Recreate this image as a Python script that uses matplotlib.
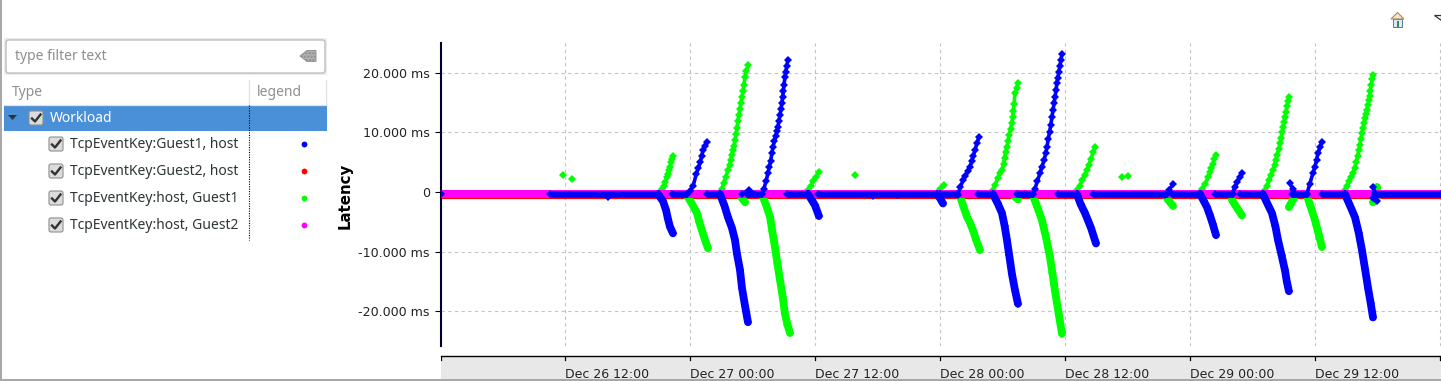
import matplotlib
matplotlib.use("Agg")
import matplotlib.pyplot as plt
import matplotlib.patches as patches

W, H = 1441, 381

# hours since Dec 26 00:00, latency in ms
tick_hours = [12, 24, 36, 48, 60, 72, 84, 96]
tick_labels = ["Dec 26 12:00", "Dec 27 00:00", "Dec 27 12:00", "Dec 28 00:00",
               "Dec 28 12:00", "Dec 29 00:00", "Dec 29 12:00"]
y_ticks = [-20, -10, 0, 10, 20]
y_labels = ["-20.000 ms", "-10.000 ms", "0", "10.000 ms", "20.000 ms"]

baseline_start = [0.1, 96.1]
baseline_value = [-0.25, -0.25]
red_value = [-0.4, -0.4]

blue_runs = [(10.56, 21.02), (22.27, 23.71), (25.63, 26.88), (29.47, 30.91), (33.31, 35.33),
             (36.29, 48.0), (48.0, 49.63), (51.65, 53.09), (55.39, 56.93), (59.33, 61.15),
             (62.69, 69.79), (70.27, 72.96), (74.4, 76.13), (76.8, 79.0), (81.79, 83.23),
             (84.67, 86.88), (89.76, 96.1)]

green_dots_t = [11.81, 12.67, 39.84, 65.47, 66.05]
green_dots_v = [2.9, 2.2, 2.9, 2.5, 2.7]
blue_dots_t = [0.1, 16.13, 41.57, 43.9]
blue_dots_v = [-0.35, -0.8, -0.7, -0.45]

# (times, values) for the strokes leaving the baseline
green_up = [
    ([21.12, 21.3, 21.5, 21.65, 21.79, 21.9, 21.98, 22.08, 22.18, 22.28, 22.37],
     [0.0, 0.5, 1.0, 1.7, 2.5, 3.1, 3.7, 4.3, 5.0, 5.5, 6.0]),
    ([27.07, 27.25, 27.45, 27.65, 27.8, 27.92, 28.03, 28.13, 28.23, 28.32, 28.43, 28.52, 28.61, 28.7,
      28.8, 28.9, 29.0, 29.09, 29.18, 29.28, 29.42, 29.57],
     [0.6, 1.6, 2.6, 3.7, 4.6, 5.4, 6.2, 7.0, 7.8, 8.7, 9.7, 10.8, 12.0, 13.0,
      14.0, 15.0, 16.0, 17.0, 18.0, 19.3, 20.3, 21.3]),
    ([35.33, 35.6, 35.85, 36.1, 36.38], [0.3, 1.1, 1.9, 2.6, 3.3]),
    ([48.0, 48.38], [0.6, 1.2]),
    ([53.09, 53.3, 53.55, 53.76, 53.95, 54.1, 54.2, 54.3, 54.43, 54.55, 54.65, 54.78, 54.91, 54.98,
      55.05, 55.12, 55.2, 55.35, 55.49],
     [0.3, 1.2, 2.4, 3.2, 3.7, 4.8, 5.8, 6.7, 7.6, 8.6, 9.6, 10.6, 11.6, 12.6,
      13.6, 14.8, 16.6, 17.4, 18.3]),
    ([61.15, 61.4, 61.65, 61.9, 62.11, 62.3, 62.5, 62.7, 62.88],
     [0.3, 1.1, 2.0, 2.9, 3.7, 4.6, 5.6, 6.7, 7.6]),
    ([73.15, 73.45, 73.73, 73.9, 74.05, 74.2, 74.35, 74.5], [0.6, 1.3, 2.5, 3.3, 4.0, 4.8, 5.5, 6.3]),
    ([79.2, 79.4, 79.6, 79.8, 79.97, 80.12, 80.25, 80.38, 80.52, 80.64, 80.75, 80.85, 80.95, 81.03,
      81.12, 81.22, 81.32, 81.4, 81.5],
     [0.3, 1.1, 2.0, 2.9, 3.7, 4.6, 5.4, 6.3, 7.2, 8.2, 9.1, 10.0, 10.9, 11.8,
      12.6, 13.5, 14.4, 15.2, 16.0]),
    ([86.88, 87.1, 87.3, 87.5, 87.65, 87.8, 87.95, 88.1, 88.2, 88.3, 88.4, 88.51, 88.62, 88.72, 88.82,
      88.92, 88.99, 89.08, 89.16, 89.24, 89.32, 89.4, 89.5, 89.57],
     [0.3, 1.0, 1.8, 2.6, 3.2, 4.0, 5.0, 6.0, 7.0, 7.9, 8.9, 9.9, 10.8, 11.6, 12.4,
      13.1, 13.8, 14.6, 15.4, 16.2, 17.0, 17.9, 18.9, 19.7]),
]
green_down = [
    ([23.71, 24.0, 24.3, 24.67, 24.9, 25.15, 25.44, 25.73], [-0.5, -1.4, -2.3, -3.5, -5.0, -6.4, -8.0, -9.4]),
    ([28.9, 29.3], [-0.8, -1.7]),
    ([30.91, 31.3, 31.68, 31.9, 32.16, 32.4, 32.64, 32.9, 33.12, 33.36, 33.6],
     [-0.4, -2.1, -4.1, -6.5, -9.2, -12.0, -14.7, -17.5, -20.4, -22.2, -23.6]),
    ([49.92, 50.25, 50.59, 50.9, 51.17, 51.5, 51.84], [-0.6, -2.4, -4.1, -5.2, -6.4, -8.1, -9.7]),
    ([55.1, 55.49], [-0.6, -1.2]),
    ([56.93, 57.35, 57.79, 58.2, 58.56, 58.8, 59.04, 59.4, 59.71],
     [-0.6, -2.5, -4.7, -7.7, -10.9, -13.6, -16.5, -20.4, -23.7]),
    ([69.79, 70.05, 70.37], [-1.0, -1.6, -2.3]),
    ([76.03, 76.5, 76.99], [-1.3, -2.6, -3.9]),
    ([81.5, 81.98], [-2.5, -1.0]),
    ([83.23, 83.6, 84.0, 84.35, 84.67], [-0.6, -2.5, -4.7, -7.0, -9.2]),
    ([89.57, 89.95], [-1.7, -0.8]),
    ([89.95, 89.95], [0.9, -0.3]),
]
blue_up = [
    ([23.71, 24.0, 24.3, 24.6, 24.8, 25.0, 25.12, 25.25, 25.45, 25.63],
     [-0.3, 0.2, 1.0, 3.0, 4.0, 5.0, 6.0, 7.0, 7.8, 8.4]),
    ([29.0, 29.66, 30.1], [-0.3, 0.4, -0.3]),
    ([30.91, 31.1, 31.3, 31.49, 31.62, 31.75, 31.87, 31.97, 32.1, 32.22, 32.35, 32.45, 32.55, 32.65,
      32.75, 32.83, 32.9, 32.97, 33.03, 33.12, 33.2, 33.3, 33.41],
     [-0.3, 0.6, 1.8, 3.2, 4.2, 5.3, 6.5, 7.6, 8.5, 9.4, 10.2, 11.0, 12.0, 13.0,
      14.0, 15.0, 16.0, 17.0, 18.0, 19.3, 20.2, 21.2, 22.2]),
    ([49.73, 49.95, 50.21, 50.45, 50.68, 50.88, 51.05, 51.2, 51.36, 51.55, 51.74],
     [-0.4, 0.8, 2.0, 2.7, 3.5, 4.2, 5.2, 6.1, 7.0, 8.2, 9.2]),
    ([56.93, 57.1, 57.35, 57.6, 57.8, 58.0, 58.15, 58.27, 58.4, 58.52, 58.65, 58.75, 58.85, 58.95,
      59.05, 59.15, 59.23, 59.32, 59.42, 59.52, 59.62, 59.71],
     [-0.3, 0.5, 1.8, 3.2, 4.3, 5.4, 6.5, 7.6, 8.9, 10.1, 11.3, 12.6, 13.7, 14.9,
      16.0, 17.2, 18.3, 19.2, 20.2, 21.2, 22.2, 23.2]),
    ([69.6, 70.0, 70.37], [-0.5, 0.4, 1.3]),
    ([76.03, 76.3, 76.55, 76.8, 76.99], [-0.3, 0.8, 1.7, 2.6, 3.2]),
    ([83.23, 83.5, 83.81, 84.0, 84.15, 84.29, 84.48, 84.67],
     [-0.3, 1.4, 3.2, 4.3, 5.4, 6.5, 7.5, 8.4]),
    ([81.6, 81.85, 82.08], [1.5, 0.6, -0.3]),
    ([89.57, 89.75, 89.95, 89.57], [0.9, -0.2, -1.4, -1.0]),
]
blue_down = [
    ([20.93, 21.41, 21.7, 21.89, 22.08, 22.37], [-0.35, -1.5, -3.0, -4.5, -5.8, -6.9]),
    ([26.88, 27.3, 27.65, 28.03, 28.32, 28.51, 28.8, 28.99, 29.28, 29.57],
     [-0.35, -2.2, -4.2, -6.0, -8.0, -10.3, -13.0, -16.0, -19.0, -21.8]),
    ([35.33, 36.0, 36.38], [-0.3, -2.2, -4.0]),
    ([47.71, 48.0, 48.29], [-0.35, -1.0, -1.9]),
    ([53.09, 53.55, 53.95, 54.2, 54.43, 54.65, 54.91, 55.2, 55.49],
     [-0.35, -1.9, -3.5, -5.6, -8.0, -10.6, -13.7, -16.4, -18.7]),
    ([61.15, 61.5, 61.92, 62.2, 62.5, 62.98], [-0.35, -2.0, -3.5, -4.7, -6.0, -8.6]),
    ([72.96, 73.3, 73.63, 73.9, 74.2, 74.5], [-0.3, -1.4, -2.5, -3.8, -5.4, -7.2]),
    ([79.01, 79.4, 79.87, 80.2, 80.45, 80.8, 81.12, 81.3, 81.5],
     [-0.35, -1.8, -3.5, -5.7, -8.0, -10.6, -13.1, -15.0, -16.6]),
    ([86.88, 87.4, 87.84, 88.2, 88.51, 88.8, 89.09, 89.35, 89.57],
     [-0.35, -2.4, -4.2, -6.8, -9.7, -12.8, -16.0, -18.6, -21.0]),
]

legend_rows = ["TcpEventKey:Guest1, host", "TcpEventKey:Guest2, host",
               "TcpEventKey:host, Guest1", "TcpEventKey:host, Guest2"]
legend_colors = ["#0000ff", "#ff0000", "#00ff00", "#ff00ff"]
legend_y = [144, 171, 198, 225]

fig = plt.figure(figsize=(W / 100, H / 100), dpi=100, facecolor="white")


def px_axes(x0, y0, x1, y1):
    return fig.add_axes([x0 / W, 1 - y1 / H, (x1 - x0) / W, (y1 - y0) / H])


# main plot
ax = px_axes(441, 43, 1441, 345.5)
ax.set_xlim(0.1, 96.1)
ax.set_ylim(-25.7, 25.0)
for s in ["top", "right", "bottom"]:
    ax.spines[s].set_visible(False)
ax.spines["left"].set_linewidth(1.5)
ax.spines["left"].set_color("#000030")
ax.set_xticks(tick_hours)
ax.tick_params(axis="x", length=0, labelbottom=False)
ax.set_yticks(y_ticks)
ax.set_yticklabels(y_labels, fontsize=9.1, color="#222222")
ax.tick_params(axis="y", length=4, width=0.8, pad=4)
ax.grid(True, linestyle="--", color="#c4c4c4", linewidth=0.8, dashes=(3, 3))
ax.set_axisbelow(True)
ax.set_ylabel("Latency", fontsize=10.8, fontweight="bold", labelpad=0)
ax.yaxis.set_label_coords(-0.0885, 0.495)

ax.plot(baseline_start, red_value, color="#ff0000", lw=5.9, solid_capstyle="butt", zorder=2)
ax.plot(baseline_start, baseline_value, color="#ff00ff", lw=5.8, solid_capstyle="butt", zorder=4)

ax.plot(green_dots_t, green_dots_v, ls="none", marker="D", ms=3.9, color="#00ff00", mew=0, zorder=3)
for t, v in green_up:
    ax.plot(t, v, color="#00ff00", lw=2.6, marker="D", ms=4.3, mew=0, zorder=3)
for t, v in green_down:
    ax.plot(t, v, color="#00ff00", lw=5.6, marker="D", ms=3.9, mew=0, zorder=3,
            solid_capstyle="round", solid_joinstyle="round")

for start, end in blue_runs:
    ax.plot([start, end], [-0.35, -0.35], color="#0000ff", lw=4.8, marker="D", ms=4.0, mew=0,
            solid_capstyle="butt", zorder=5)
ax.plot(blue_dots_t, blue_dots_v, ls="none", marker="D", ms=4.2, color="#0000ff", mew=0, zorder=5)
for t, v in blue_up:
    ax.plot(t, v, color="#0000ff", lw=2.6, marker="D", ms=4.3, mew=0, zorder=5)
for t, v in blue_down:
    ax.plot(t, v, color="#0000ff", lw=5.6, marker="D", ms=3.9, mew=0, zorder=5,
            solid_capstyle="round", solid_joinstyle="round")

# time strip under the plot
strip = px_axes(441, 356, 1441, 379)
strip.set_facecolor("#e8e8e8")
strip.set_xlim(0.1, 96.1)
strip.set_ylim(23, 0)
for s in ["left", "right", "bottom"]:
    strip.spines[s].set_visible(False)
strip.spines["top"].set_linewidth(1.0)
strip.set_yticks([])
strip.set_xticks([])
for h in tick_hours:
    strip.plot([h, h], [0, 4], color="black", lw=0.9)
for h, label in zip(tick_hours, tick_labels):
    strip.text(h, 18.5, label, ha="left", va="center", fontsize=9.0, color="#222222", clip_on=True)
strip.plot([0.1, 0.1], [0, 4], color="black", lw=0.9)
strip.set_xlim(0.1, 96.1)

# widgets around the chart, in pixels
ui = fig.add_axes([0, 0, 1, 1], zorder=-1)
ui.set_xlim(0, W)
ui.set_ylim(H, 0)
ui.axis("off")
ui.add_patch(patches.Rectangle((0, 0), 1.5, 379, color="#a8a8a8", lw=0))
ui.add_patch(patches.Rectangle((0, 379), W, 2, color="#a8a8a8", lw=0))

ui.add_patch(patches.Rectangle((4, 38), 323, 37, color="#ececec", lw=0))
ui.add_patch(patches.FancyBboxPatch((6, 40), 319, 33, boxstyle="round,pad=0,rounding_size=2.5",
                                    fc="white", ec="#b8b8b8", lw=0.9))
ui.text(15, 56.5, "type filter text", fontsize=10, color="#8e8e8e", family="Noto Sans", va="center")
ui.add_patch(patches.Polygon([(300, 56), (307, 50.5), (316, 50.5), (316, 61.5), (307, 61.5)],
                             fc="#b0b0b0", ec="#8c8c8c", lw=0.6, hatch="....."))

ui.text(12, 92.5, "Type", fontsize=10, color="#909090", family="Noto Sans", va="center")
ui.text(257, 92.5, "legend", fontsize=10, color="#909090", family="Noto Sans", va="center")
ui.plot([248.5, 248.5], [80, 104], color="#e2e2e2", lw=0.9)
ui.plot([326, 326], [80, 104], color="#e2e2e2", lw=0.9)
ui.plot([4, 327], [104.5, 104.5], color="#e2e2e2", lw=0.9)
ui.add_patch(patches.Rectangle((4, 105), 323, 26, color="#4a90d9", lw=0))
ui.plot([248.5, 248.5], [105, 240], color="black", lw=0.8, dashes=(1, 1.2))

ui.add_patch(patches.Polygon([(8, 115), (17, 115), (12.5, 120)], color="#2e3436", lw=0))


def checkbox(x, y):
    ui.add_patch(patches.FancyBboxPatch((x - 7, y - 7), 14, 14, boxstyle="round,pad=0,rounding_size=2",
                                        fc="#dcdcdc", ec="#8f8f8f", lw=0.8))
    ui.plot([x - 4, x - 1, x + 4.5], [y + 0.5, y + 3.5, y - 3.5], color="#2e3436", lw=1.7)


checkbox(36, 118)
ui.text(50, 118.5, "Workload", fontsize=10, color="white", family="Noto Sans", va="center")
for label, c, y in zip(legend_rows, legend_colors, legend_y):
    checkbox(56, y)
    ui.text(70, y + 0.5, label, fontsize=10, color="#2e3436", family="Noto Sans", va="center")
    ui.plot([304], [y], marker="o", ms=4.2, color=c, mew=0)

# toolbar home icon and menu arrow
ui.add_patch(patches.Rectangle((1393, 19), 9, 8, fc="#dfe9f5", ec="#5577a8", lw=0.7))
ui.add_patch(patches.Polygon([(1391, 19), (1397.5, 12.5), (1404, 19)], fc="#f2e2c8", ec="#b08a5a", lw=0.8))
ui.add_patch(patches.Rectangle((1396.5, 21), 2, 6, color="#2f8f4a", lw=0))
ui.add_patch(patches.Polygon([(1434, 15), (1441, 15), (1441, 20)], fc="white", ec="#333333", lw=0.9))

fig.savefig("out.png", dpi=100, facecolor="white")
